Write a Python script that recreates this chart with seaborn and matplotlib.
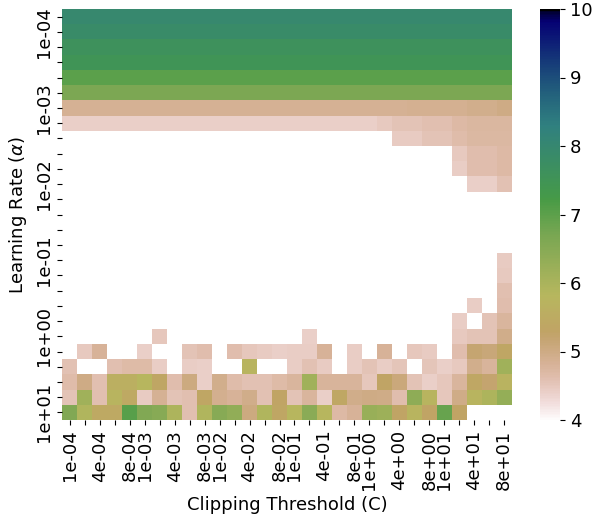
import numpy as np
import pandas as pd
import matplotlib
matplotlib.use("Agg")
import matplotlib.pyplot as plt
import seaborn as sns

N = np.nan

# x: clipping threshold C (30 values), y: learning rate alpha (27 values)
clip_labels = ["1e-04", "", "4e-04", "", "8e-04", "1e-03", "", "4e-03", "", "8e-03",
               "1e-02", "", "4e-02", "", "8e-02", "1e-01", "", "4e-01", "", "8e-01",
               "1e+00", "", "4e+00", "", "8e+00", "1e+01", "", "4e+01", "", "8e+01"]
lr_labels = ["", "1e-04", "", "", "", "", "1e-03", "", "", "", "", "1e-02", "", "", "",
             "", "1e-01", "", "", "", "", "1e+00", "", "", "", "", "1e+01"]

row00 = [7.98, 7.98, 7.98, 7.98, 7.98, 7.98, 7.98, 7.98, 7.98, 7.98, 7.98, 7.98, 7.98, 7.98, 7.98,
         7.98, 7.98, 7.98, 7.98, 7.98, 7.98, 7.98, 7.98, 7.98, 7.98, 7.98, 7.98, 7.98, 7.98, 7.98]
row01 = [7.85, 7.85, 7.85, 7.85, 7.85, 7.85, 7.85, 7.85, 7.85, 7.85, 7.85, 7.85, 7.85, 7.85, 7.85,
         7.85, 7.85, 7.85, 7.85, 7.85, 7.85, 7.85, 7.85, 7.85, 7.85, 7.85, 7.85, 7.85, 7.85, 7.85]
row02 = [7.62, 7.62, 7.62, 7.62, 7.62, 7.62, 7.62, 7.62, 7.62, 7.62, 7.62, 7.62, 7.62, 7.62, 7.62,
         7.62, 7.62, 7.62, 7.62, 7.62, 7.62, 7.62, 7.62, 7.62, 7.62, 7.62, 7.62, 7.62, 7.62, 7.62]
row03 = [7.5, 7.5, 7.5, 7.5, 7.5, 7.5, 7.5, 7.5, 7.5, 7.5, 7.5, 7.5, 7.5, 7.5, 7.5,
         7.5, 7.5, 7.5, 7.5, 7.5, 7.5, 7.5, 7.5, 7.5, 7.5, 7.5, 7.5, 7.5, 7.5, 7.5]
row04 = [7.0, 7.0, 7.0, 7.0, 7.0, 7.0, 7.0, 7.0, 7.0, 7.0, 7.0, 7.0, 7.0, 7.0, 7.0,
         7.0, 7.0, 7.0, 7.0, 7.0, 7.0, 7.0, 7.0, 7.0, 7.0, 7.0, 7.0, 7.0, 7.0, 7.0]
row05 = [6.65, 6.65, 6.65, 6.65, 6.65, 6.65, 6.65, 6.65, 6.65, 6.65, 6.65, 6.65, 6.65, 6.65, 6.65,
         6.65, 6.65, 6.65, 6.65, 6.65, 6.65, 6.65, 6.65, 6.65, 6.65, 6.65, 6.65, 6.65, 6.65, 6.65]
row06 = [4.85, 4.85, 4.85, 4.85, 4.85, 4.85, 4.85, 4.85, 4.85, 4.85, 4.85, 4.85, 4.85, 4.85, 4.85,
         4.85, 4.85, 4.85, 4.85, 4.85, 4.85, 4.85, 4.85, 4.88, 4.88, 4.88, 4.88, 4.92, 4.92, 5.0]
row07 = [4.42, 4.42, 4.42, 4.42, 4.42, 4.42, 4.42, 4.42, 4.42, 4.42, 4.42, 4.42, 4.42, 4.42, 4.42,
         4.42, 4.42, 4.42, 4.42, 4.42, 4.42, 4.48, 4.55, 4.55, 4.6, 4.6, 4.68, 4.74, 4.74, 4.74]
row08 = [N, N, N, N, N, N, N, N, N, N, N, N, N, N, N,
         N, N, N, N, N, N, N, 4.45, 4.45, 4.55, 4.55, 4.65, 4.72, 4.72, 4.72]
row09 = [N, N, N, N, N, N, N, N, N, N, N, N, N, N, N,
         N, N, N, N, N, N, N, N, N, N, N, 4.47, 4.62, 4.62, 4.68]
row10 = [N, N, N, N, N, N, N, N, N, N, N, N, N, N, N,
         N, N, N, N, N, N, N, N, N, N, N, 4.43, 4.62, 4.62, 4.68]
row11 = [N, N, N, N, N, N, N, N, N, N, N, N, N, N, N,
         N, N, N, N, N, N, N, N, N, N, N, N, 4.42, 4.42, 4.58]
row12 = [N] * 30
row13 = [N] * 30
row14 = [N] * 30
row15 = [N] * 30
row16 = [N, N, N, N, N, N, N, N, N, N, N, N, N, N, N,
         N, N, N, N, N, N, N, N, N, N, N, N, N, N, 4.45]
row17 = [N, N, N, N, N, N, N, N, N, N, N, N, N, N, N,
         N, N, N, N, N, N, N, N, N, N, N, N, N, N, 4.47]
row18 = [N, N, N, N, N, N, N, N, N, N, N, N, N, N, N,
         N, N, N, N, N, N, N, N, N, N, N, N, N, N, 4.6]
row19 = [N, N, N, N, N, N, N, N, N, N, N, N, N, N, N,
         N, N, N, N, N, N, N, N, N, N, N, N, 4.43, N, 4.62]
row20 = [N, N, N, N, N, N, N, N, N, N, N, N, N, N, N,
         N, N, N, N, N, N, N, N, N, N, N, 4.43, N, 4.55, 4.75]
row21 = [N, N, N, N, N, N, 4.5, N, N, N, N, N, N, N, N,
         N, 4.42, N, N, N, N, N, N, N, N, N, 4.47, 4.55, 4.55, 4.95]
row22 = [N, 4.47, 4.82, N, N, 4.42, N, N, 4.55, 4.63, N, 4.62, 4.5, 4.45, 4.42,
         4.43, 4.43, 4.82, N, 4.43, N, 4.82, N, 4.5, 4.45, N, 4.62, 5.18, 5.12, 5.35]
row23 = [4.57, N, N, 4.6, 4.67, 4.67, 4.43, N, 4.43, 4.4, N, N, 5.75, N, N,
         4.43, 4.58, 4.45, N, 4.43, 4.55, 4.43, 4.52, N, 4.52, 4.42, 4.47, 4.92, 4.78, 6.15]
row24 = [4.65, 5.0, 4.6, 5.6, 5.6, 5.8, 5.35, 4.62, 5.05, 4.42, 4.92, 4.65, 4.58, 4.58, 4.67,
         4.75, 6.15, 4.78, 4.78, 4.78, 4.5, 5.3, 5.1, 4.55, 4.4, 4.5, 4.75, 5.4, 5.2, 5.7]
row25 = [4.55, 6.15, 4.6, 5.75, 5.45, 4.45, 4.85, 4.55, 4.6, 5.35, 4.9, 4.8, 4.95, 4.58, 5.3,
         4.55, 4.75, 4.4, 5.4, 4.95, 5.0, 4.97, 4.62, 6.4, 5.75, 4.5, 4.97, 5.75, 5.95, 6.3]
row26 = [6.6, 5.9, 5.45, 5.45, 7.05, 6.6, 6.5, 5.95, 4.6, 5.9, 6.5, 6.35, 5.05, 5.9, 5.35,
         5.8, 6.45, 5.8, 4.7, 4.82, 6.25, 6.2, 5.3, 5.75, 5.3, 6.9, 5.3, N, N, N]

rows = [row00, row01, row02, row03, row04, row05, row06, row07, row08, row09,
        row10, row11, row12, row13, row14, row15, row16, row17, row18, row19,
        row20, row21, row22, row23, row24, row25, row26]

data = pd.DataFrame(np.array(rows, dtype=float))

W, H = 602, 521
fig = plt.figure(figsize=(W / 100, H / 100), dpi=100)
ax = fig.add_axes([62.3 / W, 1 - 420 / H, 449.4 / W, 411 / H])
cax = fig.add_axes([540 / W, 1 - 420 / H, 20 / W, 411 / H])

sns.heatmap(data, ax=ax, cbar_ax=cax, cmap="gist_earth_r", vmin=4, vmax=10,
            xticklabels=clip_labels, yticklabels=lr_labels)

fs = 13
ax.tick_params(axis="both", labelsize=fs)
plt.setp(ax.get_xticklabels(), rotation=90)
plt.setp(ax.get_yticklabels(), rotation=90)
ax.set_xlabel("Clipping Threshold (C)", fontsize=fs)
ax.set_ylabel(r"Learning Rate ($\alpha$)", fontsize=fs)
cax.tick_params(labelsize=fs)

fig.savefig("out.png", dpi=100)
